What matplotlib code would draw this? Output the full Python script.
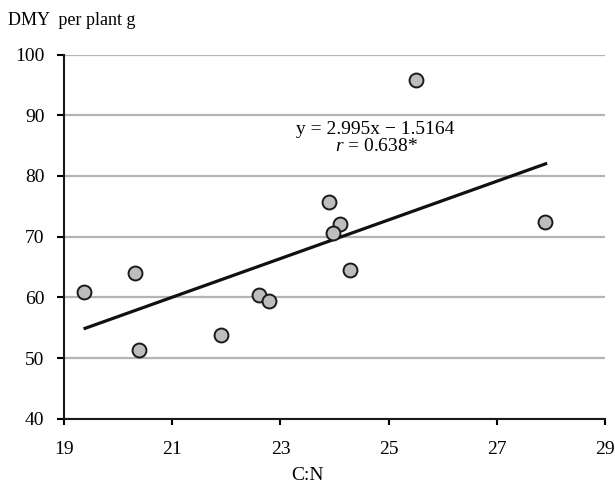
import matplotlib.pyplot as plt

# ----------------------------
# Data
# ----------------------------
cn_ratio = [19.37, 20.31, 20.39, 21.90, 22.60, 22.79, 23.89, 24.10, 23.98, 24.29, 25.51, 27.88]
dmy = [60.9, 64.0, 51.4, 53.8, 60.4, 59.4, 75.7, 72.1, 70.6, 64.5, 95.8, 72.4]

# regression line end points as drawn
fit_x = [19.39, 27.90]
fit_y = [54.9, 82.0]

x_ticks = [19, 21, 23, 25, 27, 29]
y_ticks = [40, 50, 60, 70, 80, 90, 100]

eq_text = "y = 2.995x \u2212 1.5164"
r_text = r"$\it{r}$ = 0.638*"

plt.rcParams["font.family"] = ["Liberation Serif", "DejaVu Serif"]
plt.rcParams["mathtext.fontset"] = "custom"
plt.rcParams["mathtext.it"] = "Liberation Serif:italic"

# ----------------------------
# Plot
# ----------------------------
fig = plt.figure(figsize=(6.15, 4.91), dpi=100)
ax = fig.add_axes([0.104, 0.147, 0.880, 0.742])

ax.set_xlim(19, 29)
ax.set_ylim(40, 100)
ax.set_xticks(x_ticks)
ax.set_yticks(y_ticks)

ax.yaxis.grid(True, color="#b4b4b4", linewidth=1.6)
ax.set_axisbelow(True)

for side in ["top", "right"]:
    ax.spines[side].set_visible(False)
for side in ["left", "bottom"]:
    ax.spines[side].set_linewidth(1.5)
    ax.spines[side].set_color("#1a1a1a")

ax.tick_params(axis="x", direction="out", length=4, width=1.5, pad=12, labelsize=14)
ax.tick_params(axis="y", direction="out", length=5, width=1.5, pad=9, labelsize=14)

ax.plot(fit_x, fit_y, color="#111111", linewidth=2.3, zorder=3)
ax.plot(cn_ratio, dmy, "o", markersize=10, markerfacecolor="#bdbdbd",
        markeredgecolor="#1a1a1a", markeredgewidth=1.4, zorder=4)

ax.text(24.75, 87.6, eq_text, ha="center", va="center", fontsize=14)
ax.text(24.78, 84.9, r_text, ha="center", va="center", fontsize=14)

fig.text(0.013, 0.958, "DMY  per plant g", ha="left", va="center", fontsize=13)
fig.text(0.50, 0.031, "C:N", ha="center", va="center", fontsize=14)

fig.savefig("out.png", dpi=100)
